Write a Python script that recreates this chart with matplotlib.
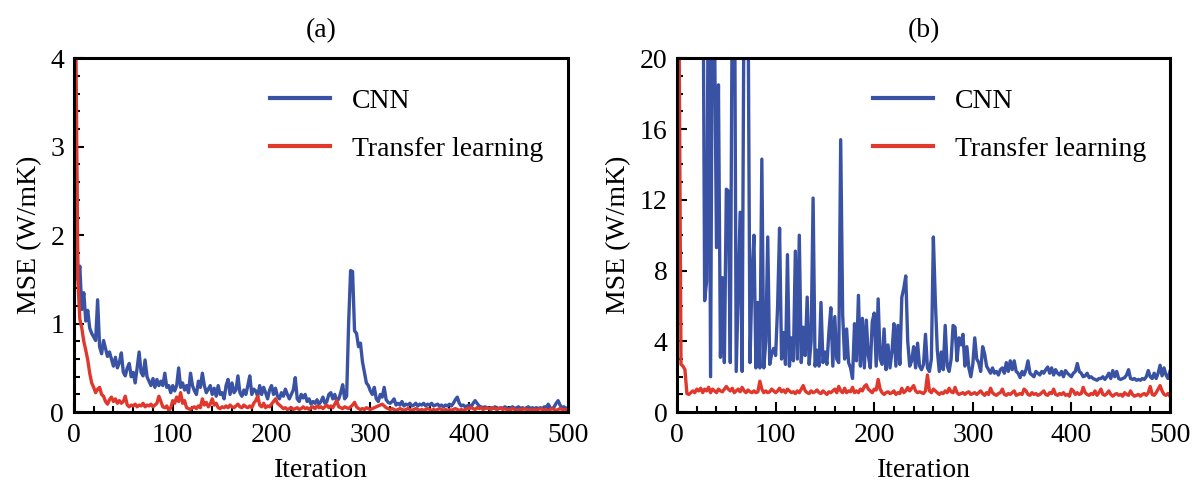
import numpy as np
import matplotlib
matplotlib.use("Agg")
import matplotlib.pyplot as plt
from matplotlib.ticker import MultipleLocator

plt.rcParams['font.family'] = ['Liberation Serif', 'DejaVu Serif']
plt.rcParams['font.size'] = 20

BLUE = '#3a52a3'
RED = '#e0382c'

# values, one every 2 iterations (0..500)
cnn_a = [4.5, 3.2, 1.5, 1.65, 1.16, 1.35, 1.03, 1.15, 0.95, 0.89,
         0.85, 0.81, 1.27, 0.74, 0.66, 0.81, 0.72, 0.63, 0.68, 0.6,
         0.52, 0.62, 0.5, 0.56, 0.67, 0.45, 0.41, 0.5, 0.55, 0.4,
         0.45, 0.33, 0.5, 0.68, 0.45, 0.41, 0.59, 0.4, 0.35, 0.3,
         0.38, 0.28, 0.37, 0.3, 0.35, 0.3, 0.44, 0.28, 0.3, 0.22,
         0.3, 0.24, 0.3, 0.5, 0.28, 0.33, 0.25, 0.3, 0.22, 0.44,
         0.3, 0.24, 0.2, 0.35, 0.28, 0.44, 0.3, 0.22, 0.26, 0.3,
         0.2, 0.27, 0.18, 0.3, 0.2, 0.22, 0.15, 0.3, 0.37, 0.2,
         0.33, 0.22, 0.25, 0.41, 0.22, 0.18, 0.25, 0.2, 0.3, 0.41,
         0.2, 0.26, 0.24, 0.18, 0.3, 0.2, 0.28, 0.22, 0.15, 0.25,
         0.3, 0.2, 0.27, 0.18, 0.15, 0.22, 0.18, 0.26, 0.2, 0.15,
         0.2, 0.25, 0.39, 0.15, 0.12, 0.2, 0.16, 0.2, 0.12, 0.15,
         0.09, 0.12, 0.1, 0.14, 0.09, 0.12, 0.17, 0.1, 0.12, 0.2,
         0.22, 0.15, 0.2, 0.12, 0.15, 0.22, 0.31, 0.15, 0.18, 1.0,
         1.6, 1.59, 0.92, 0.89, 0.74, 0.78, 0.57, 0.45, 0.33, 0.3,
         0.24, 0.2, 0.28, 0.15, 0.12, 0.2, 0.17, 0.28, 0.14, 0.11,
         0.1, 0.12, 0.15, 0.08, 0.1, 0.08, 0.12, 0.07, 0.09, 0.08,
         0.1, 0.07, 0.08, 0.1, 0.07, 0.09, 0.08, 0.1, 0.07, 0.09,
         0.08, 0.1, 0.07, 0.08, 0.09, 0.07, 0.08, 0.06, 0.08, 0.07,
         0.09, 0.07, 0.1, 0.14, 0.17, 0.1, 0.07, 0.08, 0.06, 0.07,
         0.08, 0.06, 0.1, 0.13, 0.1, 0.07, 0.06, 0.05, 0.06, 0.05,
         0.04, 0.05, 0.04, 0.06, 0.05, 0.04, 0.05, 0.04, 0.06, 0.05,
         0.04, 0.05, 0.06, 0.04, 0.05, 0.06, 0.04, 0.05, 0.04, 0.05,
         0.06, 0.04, 0.05, 0.04, 0.05, 0.04, 0.05, 0.04, 0.06, 0.05,
         0.09, 0.05, 0.04, 0.06, 0.1, 0.13, 0.08, 0.05, 0.06, 0.04,
         0.05]

tl_a = [4.5, 4.2, 1.5, 1.05, 0.95, 0.8, 0.7, 0.59, 0.44, 0.33,
        0.28, 0.22, 0.26, 0.28, 0.2, 0.18, 0.12, 0.09, 0.14, 0.17,
        0.12, 0.15, 0.1, 0.13, 0.1, 0.12, 0.18, 0.08, 0.06, 0.08,
        0.07, 0.09, 0.06, 0.08, 0.07, 0.1, 0.06, 0.08, 0.07, 0.09,
        0.06, 0.08, 0.1, 0.18, 0.12, 0.06, 0.05, 0.07, 0.02, 0.05,
        0.13, 0.1, 0.17, 0.12, 0.22, 0.1, 0.13, 0.05, 0.04, 0.03,
        0.05, 0.06, 0.04, 0.07, 0.05, 0.15, 0.08, 0.11, 0.06, 0.09,
        0.15, 0.08, 0.1, 0.05, 0.04, 0.06, 0.05, 0.07, 0.05, 0.08,
        0.06, 0.05, 0.07, 0.09, 0.06, 0.05, 0.08, 0.06, 0.05, 0.07,
        0.05, 0.1, 0.13, 0.18, 0.08, 0.06, 0.1, 0.05, 0.07, 0.06,
        0.09, 0.12, 0.15, 0.1, 0.08, 0.06, 0.04, 0.05, 0.03, 0.04,
        0.05, 0.03, 0.04, 0.05, 0.03, 0.04, 0.06, 0.04, 0.05, 0.03,
        0.05, 0.06, 0.04, 0.07, 0.05, 0.06, 0.04, 0.06, 0.08, 0.05,
        0.07, 0.05, 0.09, 0.13, 0.06, 0.05, 0.04, 0.06, 0.05, 0.04,
        0.06, 0.08, 0.11, 0.06, 0.04, 0.03, 0.04, 0.03, 0.05, 0.04,
        0.03, 0.04, 0.05, 0.06, 0.07, 0.08, 0.09, 0.07, 0.05, 0.04,
        0.03, 0.04, 0.03, 0.02, 0.03, 0.04, 0.03, 0.02, 0.03, 0.04,
        0.03, 0.02, 0.03, 0.04, 0.03, 0.02, 0.03, 0.02, 0.03, 0.04,
        0.03, 0.02, 0.03, 0.02, 0.03, 0.04, 0.03, 0.02, 0.03, 0.02,
        0.03, 0.02, 0.03, 0.04, 0.03, 0.02, 0.03, 0.02, 0.03, 0.04,
        0.04, 0.05, 0.04, 0.03, 0.05, 0.04, 0.05, 0.03, 0.04, 0.05,
        0.04, 0.03, 0.05, 0.04, 0.03, 0.04, 0.05, 0.03, 0.04, 0.03,
        0.02, 0.03, 0.04, 0.03, 0.02, 0.03, 0.02, 0.03, 0.04, 0.03,
        0.02, 0.03, 0.02, 0.03, 0.02, 0.03, 0.04, 0.03, 0.02, 0.03,
        0.02, 0.03, 0.04, 0.03, 0.02, 0.03, 0.04, 0.03, 0.02, 0.03,
        0.03]

cnn_b = [60, 55, 50, 48, 46, 45, 44, 42, 40, 38,
         36, 34, 32, 30, 6.3, 7.4, 28, 2.0, 26, 22,
         9.3, 18.5, 3.1, 7.6, 2.8, 12.6, 12.5, 2.8, 24, 30,
         2.3, 6.7, 11.3, 2.3, 25, 30, 24, 2.8, 7.6, 10.0,
         2.5, 6.2, 2.5, 14.3, 2.5, 4.0, 9.9, 2.7, 3.3, 3.6,
         3.2, 6.0, 10.4, 3.0, 4.5, 2.7, 8.9, 2.6, 4.2, 2.9,
         9.1, 3.0, 10.0, 2.8, 4.8, 3.2, 6.5, 2.7, 4.0, 12.1,
         2.6, 3.5, 2.6, 6.2, 2.8, 3.4, 2.7, 4.5, 5.9, 2.6,
         5.4, 3.0, 2.8, 15.4, 5.5, 3.0, 4.7, 2.8, 2.5, 1.9,
         5.0, 2.9, 6.6, 2.6, 5.3, 2.5, 5.2, 3.2, 2.5, 5.1,
         5.6, 2.6, 6.4, 3.0, 2.7, 4.7, 2.4, 3.8, 2.5, 3.4,
         5.0, 2.6, 4.9, 2.7, 6.5, 7.0, 7.7, 4.0, 2.6, 2.9,
         3.7, 2.5, 3.9, 2.6, 2.4, 2.7, 4.4, 2.5, 2.3, 3.0,
         9.9, 6.3, 3.5, 2.3, 3.4, 2.4, 4.9, 2.6, 2.3, 3.0,
         4.9, 4.8, 2.9, 4.2, 3.8, 4.4, 2.6, 3.7, 2.5, 2.0,
         2.7, 4.2, 3.0, 2.8, 2.3, 3.7, 3.3, 2.6, 2.4, 2.2,
         2.5, 2.2, 2.3, 2.1, 2.4, 2.5, 2.2, 2.8, 2.3, 2.9,
         2.4, 2.9, 2.3, 2.2, 1.95, 2.3, 2.1, 2.4, 2.9, 2.2,
         2.1, 2.0, 2.3, 2.2, 2.1, 2.3, 2.2, 2.4, 2.55, 2.2,
         2.5, 2.1, 2.4, 2.2, 2.1, 2.3, 2.0, 2.35, 2.2, 2.1,
         2.0, 2.2, 2.3, 2.75, 2.3, 2.2, 2.0, 2.05, 2.2, 1.95,
         2.0, 1.9, 1.85, 1.8, 1.9, 1.9, 2.0, 1.85, 2.0, 2.2,
         1.9, 2.35, 2.0, 2.3, 1.9, 1.85, 1.9, 1.95, 2.1, 2.4,
         1.9, 1.85, 1.9, 1.8, 1.85, 1.8, 1.9, 1.85, 2.0, 2.35,
         2.0, 1.9, 2.2, 1.9, 2.2, 2.65, 2.05, 2.5, 2.1, 1.9,
         2.3]

tl_b = [40, 22, 2.7, 2.6, 2.4, 1.05, 1.0, 1.1, 1.2, 1.1,
        1.3, 1.2, 1.35, 1.1, 1.3, 1.2, 1.4, 1.1, 1.3, 1.2,
        1.1, 1.3, 1.2, 1.15, 1.3, 1.45, 1.3, 1.2, 1.35, 1.1,
        1.2, 1.3, 1.15, 1.4, 1.2, 1.1, 1.25, 1.15, 1.1, 1.2,
        1.1, 1.15, 1.75, 1.3, 1.1, 1.2, 1.1, 1.15, 1.3, 1.2,
        1.1, 1.2, 1.35, 1.15, 1.25, 1.1, 1.3, 1.2, 1.1, 1.15,
        1.05, 1.2, 1.1, 1.3, 1.5, 1.2, 1.1, 1.05, 1.2, 1.1,
        1.15, 1.25, 1.1, 1.05, 1.2, 1.1, 1.0, 1.15, 1.1, 1.2,
        1.3, 1.1, 1.45, 1.2, 1.1, 1.35, 1.1, 1.2, 1.15, 1.4,
        1.1, 1.2, 1.1, 1.3, 1.2, 1.45, 1.55, 1.3, 1.2, 1.1,
        1.3, 1.25, 1.85, 1.3, 1.1, 1.0, 1.1, 1.15, 1.05, 1.1,
        1.2, 1.0, 1.1, 1.05, 1.35, 1.1, 1.2, 1.4, 1.2, 1.35,
        1.5, 1.2, 1.1, 1.15, 1.1, 1.05, 1.2, 2.1, 1.2, 1.1,
        1.3, 1.2, 1.1, 1.0, 1.1, 1.05, 1.2, 1.1, 1.35, 1.15,
        1.1, 1.4, 1.1, 1.0, 1.05, 1.1, 1.0, 1.1, 1.15, 1.0,
        1.05, 1.1, 1.0, 1.1, 1.2, 1.05, 0.95, 1.1, 1.0, 1.35,
        1.1, 1.0, 0.95, 1.05, 1.1, 1.3, 1.0, 0.95, 1.05, 1.0,
        1.1, 1.2, 0.95, 1.0, 1.05, 1.0, 1.3, 1.2, 1.0, 0.95,
        1.1, 1.0, 1.05, 0.95, 1.0, 1.1, 1.2, 1.0, 0.95, 1.1,
        1.05, 1.3, 1.0, 0.95, 1.05, 1.0, 1.1, 0.95, 1.0, 0.9,
        1.3, 1.2, 1.0, 1.1, 1.0, 1.05, 1.4, 1.1, 1.0, 0.95,
        1.05, 1.0, 1.2, 0.95, 1.1, 1.3, 1.0, 0.95, 1.05, 1.2,
        1.0, 0.9, 1.0, 1.05, 0.95, 1.0, 0.9, 1.1, 1.0, 0.95,
        1.2, 1.0, 0.9, 0.95, 1.0, 0.9, 1.0, 1.05, 0.95, 1.1,
        1.45, 1.0, 0.95, 1.1, 1.3, 1.5, 1.2, 1.0, 0.95, 1.05,
        0.9]

panels = [
    ('(a)', cnn_a, tl_a, 4, 1, 0.2),
    ('(b)', cnn_b, tl_b, 20, 4, 1),
]

fig = plt.figure(figsize=(11.92, 4.86), dpi=100)
axes = [fig.add_axes([0.062, 0.152, 0.4145, 0.728]),
        fig.add_axes([0.568, 0.152, 0.4135, 0.728])]

for ax, (title, cnn, tl, ymax, ymaj, ymin) in zip(axes, panels):
    it_cnn = np.arange(len(cnn)) * 2
    it_tl = np.arange(len(tl)) * 2
    ax.plot(it_cnn, cnn, color=BLUE, lw=2.4, label='CNN')
    ax.plot(it_tl, tl, color=RED, lw=2.4, label='Transfer learning')
    ax.set_xlim(0, 500)
    ax.set_ylim(0, ymax)
    ax.xaxis.set_major_locator(MultipleLocator(100))
    ax.xaxis.set_minor_locator(MultipleLocator(20))
    ax.yaxis.set_major_locator(MultipleLocator(ymaj))
    ax.yaxis.set_minor_locator(MultipleLocator(ymin))
    ax.tick_params(which='both', direction='in', top=False, right=False,
                   width=1.5, labelsize=20)
    ax.tick_params(axis='x', pad=8)
    ax.tick_params(axis='y', pad=7)
    ax.tick_params(which='major', length=7)
    ax.tick_params(which='minor', length=4)
    for sp in ax.spines.values():
        sp.set_linewidth(2.2)
    ax.set_xlabel('Iteration', fontsize=20, labelpad=7)
    ax.set_ylabel('MSE (W/mK)', fontsize=20, labelpad=6)
    ax.set_title(title, fontsize=20, pad=15)
    leg = ax.legend(loc='upper left', bbox_to_anchor=(0.397, 0.914),
                    frameon=False, fontsize=20, handlelength=2.16,
                    handletextpad=0.8, labelspacing=0.8, borderpad=0,
                    borderaxespad=0)
    for h in leg.get_lines():
        h.set_linewidth(3.0)

fig.savefig('out.png', dpi=100)
